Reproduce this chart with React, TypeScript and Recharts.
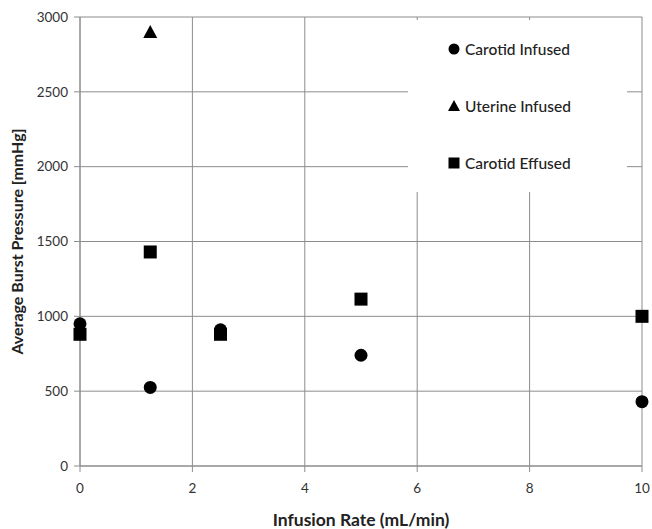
import { ScatterChart, Scatter, XAxis, YAxis, CartesianGrid } from "recharts";

// infusion rate (mL/min) vs average burst pressure (mmHg)
const seriesNames = ["Carotid Infused", "Uterine Infused", "Carotid Effused"];
const carotidInfusedX = [0, 1.25, 2.5, 5, 10];
const carotidInfusedY = [950, 525, 910, 740, 430];
const uterineInfusedX = [1.25];
const uterineInfusedY = [2900];
const carotidEffusedX = [0, 1.25, 2.5, 5, 10];
const carotidEffusedY = [880, 1430, 880, 1115, 1000];

const xTicks = [0, 2, 4, 6, 8, 10];
const yTicks = [0, 500, 1000, 1500, 2000, 2500, 3000];

const toPoints = (xs: number[], ys: number[]) => xs.map((x, i) => ({ x, y: ys[i] }));

const FONT = "Lato, 'Open Sans', sans-serif";
const GRID = "#8c8c8c";

const Circle = (p: any) => <circle cx={p.cx} cy={p.cy} r={6.5} fill="#000" />;
const Triangle = (p: any) => (
  <polygon points={`${p.cx},${p.cy - 7} ${p.cx + 7},${p.cy + 6} ${p.cx - 7},${p.cy + 6}`} fill="#000" />
);
const Square = (p: any) => <rect x={p.cx - 6.5} y={p.cy - 6.5} width={13} height={13} fill="#000" />;

const legendIcon = (i: number) => {
  if (i === 0) return <circle cx={6} cy={7} r={5.5} fill="#000" />;
  if (i === 1) return <polygon points="6,1 12,12 0,12" fill="#000" />;
  return <rect x={0.5} y={1.5} width={11} height={11} fill="#000" />;
};

const LegendBox = () => (
  <div style={{ position: "absolute", left: 408, top: 20, width: 219, height: 172, background: "#fff" }}>
    {seriesNames.map((name, i) => (
      <div
        key={name}
        style={{ position: "absolute", left: 40, top: 20 + i * 57, display: "flex", alignItems: "center", fontFamily: FONT, fontSize: 15.5, fontWeight: 500, color: "#222" }}
      >
        <svg width={13} height={14} style={{ marginRight: 4 }}>{legendIcon(i)}</svg>
        {name}
      </div>
    ))}
  </div>
);

const tickStyle = { fill: "#333", fontSize: 13.5, fontFamily: FONT };

export default function App() {
  return (
    <div style={{ position: "absolute", left: 0, top: 0, width: 652, height: 529, background: "#fff" }}>
      <ScatterChart width={652} height={529} margin={{ top: 17, right: 10, left: 0, bottom: 0 }}>
        <CartesianGrid stroke={GRID} strokeWidth={1} />
        <XAxis
          type="number"
          dataKey="x"
          domain={[0, 10]}
          ticks={xTicks}
          height={63}
          stroke={GRID}
          tickLine={{ stroke: GRID }}
          tickSize={6}
          tickMargin={11}
          tick={tickStyle}
          label={{ value: "Infusion Rate (mL/min)", position: "insideBottom", offset: 3, fill: "#222", fontSize: 17.5, fontWeight: 700, fontFamily: FONT }}
        />
        <YAxis
          type="number"
          dataKey="y"
          domain={[0, 3000]}
          ticks={yTicks}
          width={80}
          stroke={GRID}
          tickLine={{ stroke: GRID }}
          tickSize={6}
          tickMargin={6}
          tick={tickStyle}
          label={{ value: "Average Burst Pressure [mmHg]", angle: -90, position: "insideLeft", dx: 12, fill: "#222", fontSize: 16, fontWeight: 700, fontFamily: FONT, style: { textAnchor: "middle" } }}
        />
        <Scatter name={seriesNames[0]} data={toPoints(carotidInfusedX, carotidInfusedY)} fill="#000" shape={Circle} isAnimationActive={false} />
        <Scatter name={seriesNames[1]} data={toPoints(uterineInfusedX, uterineInfusedY)} fill="#000" shape={Triangle} isAnimationActive={false} />
        <Scatter name={seriesNames[2]} data={toPoints(carotidEffusedX, carotidEffusedY)} fill="#000" shape={Square} isAnimationActive={false} />
      </ScatterChart>
      <LegendBox />
    </div>
  );
}
